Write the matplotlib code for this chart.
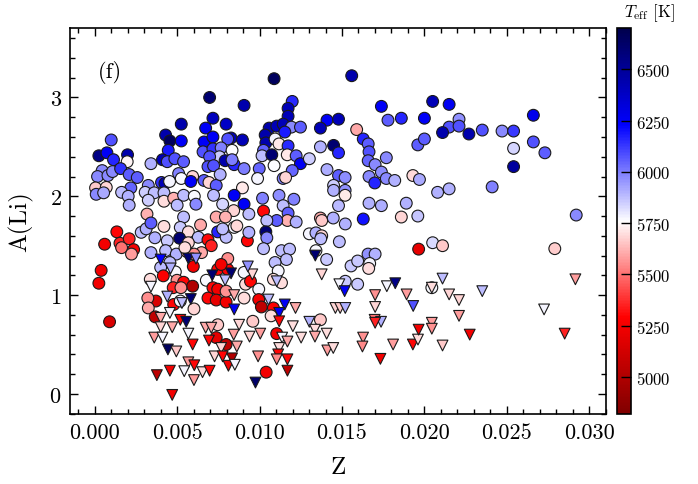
import numpy as np
import matplotlib
matplotlib.use('Agg')
import matplotlib.pyplot as plt
from matplotlib.ticker import MultipleLocator, FormatStrFormatter

plt.rcParams['font.family'] = 'serif'
plt.rcParams['font.serif'] = ['cmr10', 'DejaVu Serif']
plt.rcParams['mathtext.fontset'] = 'cm'
plt.rcParams['axes.formatter.use_mathtext'] = True
plt.rcParams['axes.unicode_minus'] = False

# detections (circles): metallicity Z, lithium abundance A(Li), Teff [K]
z_det = [
    0.0205, 0.0215, 0.02661, 0.0221, 0.0215, 0.0221, 0.0211, 0.0227, 0.02351, 0.02471,
    0.02541, 0.02661, 0.02541, 0.02731, 0.02541, 0.0208, 0.0215, 0.02411, 0.02921, 0.0205,
    0.0211, 0.02791,
    0.01088, 0.01559, 0.01198, 0.01173, 0.01173, 0.01739, 0.0186, 0.01779, 0.0200, 0.01409,
    0.01479, 0.01369, 0.01058, 0.01104, 0.01143, 0.01193, 0.01248, 0.01153, 0.01034, 0.01038,
    0.01094, 0.01118, 0.01173, 0.01024, 0.01015, 0.01074, 0.01168, 0.01222, 0.01088, 0.01248,
    0.01302, 0.01198, 0.01369, 0.01449, 0.01479, 0.01589, 0.01629, 0.01659, 0.01664, 0.01659,
    0.01701, 0.01769, 0.01739, 0.01664, 0.01699, 0.01769, 0.0182, 0.0193, 0.0197, 0.0196,
    0.0200, 0.01409, 0.01479, 0.01519, 0.01449, 0.01449, 0.01519, 0.01519, 0.01479, 0.01664,
    0.01739, 0.0189, 0.0196, 0.0186, 0.01629, 0.01369, 0.00998, 0.00988, 0.01143, 0.01158,
    0.01018, 0.01118, 0.01208, 0.01143, 0.01024, 0.01173,
    0.00697, 0.00906, 0.00717, 0.00525, 0.00797, 0.00673, 0.0010, 0.0043, 0.00456, 0.00525,
    0.00663, 0.00717, 0.00827, 0.00896, 0.00807, 0.00025, 0.00074, 0.00114, 0.00199, 0.00197,
    0.00446, 0.00411, 0.0044, 0.00486, 0.00539, 0.00341, 0.00657, 0.00717, 0.00767, 0.00833,
    0.00757, 0.00791, 0.00846, 0.00833, 0.00697, 0.00687, 0.00721, 0.00906, 0.00045, 0.00017,
    0.0008, 0.00108, 0.00157, 0.00209, 0.00258, 0.00325, 0.00219, 0.00405, 0.00426, 0.00454,
    0.00509, 0.00525, 0.00594, 0.00583, 0.00663, 0.00693, 0.00737, 0.00761, 0.00896, 0.00846,
    0.00906, 0.00005, 0.0007, 0.00009, 0.00054, 0.00163, 0.00203, 0.00209, 0.00306, 0.00361,
    0.0042, 0.00325, 0.0042, 0.00479, 0.00539, 0.0050, 0.00604, 0.00614, 0.00721, 0.00776,
    0.00843, 0.00317, 0.00737, 0.00793, 0.00539,
    0.00134, 0.0006, 0.00153, 0.00163, 0.00209, 0.00236, 0.00223, 0.00039, 0.00025, 0.0009,
    0.00282, 0.00312, 0.00341, 0.0042, 0.00365, 0.0044, 0.00341, 0.0043, 0.00495, 0.00519,
    0.00568, 0.00515, 0.00628, 0.00642, 0.00746, 0.00797, 0.00846, 0.00687, 0.00707, 0.00648,
    0.00559, 0.00602, 0.00456, 0.0040, 0.00489, 0.00598, 0.00416, 0.00337, 0.00499, 0.00539,
    0.00594, 0.00476, 0.00371, 0.00322, 0.00325, 0.00479, 0.00602, 0.00677, 0.00746, 0.00807,
    0.00807, 0.00717, 0.00746, 0.00687, 0.00737, 0.00797, 0.00906, 0.00906, 0.00926, 0.00367,
    0.00746, 0.00737, 0.00797, 0.00776, 0.00568, 0.00547, 0.00767, 0.00519, 0.00797, 0.00915,
    0.00862, 0.00523,
    0.00935, 0.01169, 0.01222, 0.01104, 0.01044, 0.00935, 0.01038, 0.01044, 0.01024, 0.01133,
    0.01182, 0.01163, 0.01094, 0.01113, 0.01302, 0.01342, 0.01377, 0.01371, 0.01377, 0.01447,
    0.0152, 0.01484, 0.01342, 0.01407, 0.01555, 0.01595, 0.01658, 0.01701, 0.01668, 0.01662,
    0.0152, 0.01595, 0.01965, 0.00945, 0.00995, 0.01084, 0.01133, 0.00995, 0.01011, 0.01084,
    0.01369, 0.00959, 0.0107, 0.01104, 0.0104, 0.02045,
]
ali_det = [
    2.96, 2.93, 2.82, 2.78, 2.70, 2.71, 2.645, 2.63, 2.67, 2.66,
    2.66, 2.55, 2.485, 2.44, 2.30, 2.04, 2.075, 2.095, 1.81, 1.53,
    1.50, 1.47,
    3.19, 3.22, 2.96, 2.89, 2.81, 2.91, 2.79, 2.77, 2.79, 2.77,
    2.78, 2.69, 2.69, 2.71, 2.73, 2.70, 2.70, 2.65, 2.62, 2.54,
    2.58, 2.53, 2.51, 2.465, 2.41, 2.42, 2.42, 2.41, 2.31, 2.33,
    2.38, 2.26, 2.50, 2.515, 2.44, 2.675, 2.58, 2.53, 2.45, 2.36,
    2.32, 2.39, 2.245, 2.20, 2.135, 2.18, 2.16, 2.21, 2.17, 2.52,
    2.58, 2.27, 2.21, 2.19, 2.11, 2.06, 2.06, 2.01, 1.905, 1.93,
    1.905, 1.93, 1.80, 1.79, 1.77, 1.78, 2.28, 2.18, 2.18, 2.19,
    1.98, 2.01, 1.97, 1.905, 1.85, 1.83,
    3.00, 2.92, 2.79, 2.73, 2.73, 2.69, 2.57, 2.62, 2.56, 2.56,
    2.55, 2.60, 2.59, 2.57, 2.58, 2.41, 2.44, 2.37, 2.42, 2.35,
    2.465, 2.37, 2.35, 2.38, 2.35, 2.33, 2.45, 2.48, 2.49, 2.465,
    2.40, 2.36, 2.32, 2.37, 2.40, 2.30, 2.31, 2.28, 2.26, 2.20,
    2.21, 2.25, 2.28, 2.22, 2.19, 2.11, 2.085, 2.14, 2.13, 2.15,
    2.23, 2.18, 2.20, 2.15, 2.16, 2.14, 2.11, 2.22, 2.085, 2.01,
    1.92, 2.085, 2.09, 2.02, 2.035, 2.04, 2.00, 1.91, 2.04, 2.035,
    2.035, 1.96, 1.95, 1.98, 2.01, 1.91, 2.00, 1.92, 2.01, 1.92,
    1.855, 1.82, 1.79, 1.79, 1.79,
    1.64, 1.515, 1.525, 1.48, 1.57, 1.46, 1.415, 1.25, 1.12, 0.73,
    1.635, 1.67, 1.73, 1.695, 1.58, 1.55, 1.43, 1.45, 1.415, 1.685,
    1.64, 1.575, 1.585, 1.71, 1.64, 1.585, 1.685, 1.56, 1.50, 1.43,
    1.44, 1.415, 1.33, 1.28, 1.235, 1.29, 1.195, 1.16, 1.15, 1.13,
    1.09, 1.075, 0.94, 0.97, 0.87, 0.905, 0.86, 1.15, 1.26, 1.26,
    1.37, 1.075, 1.06, 0.97, 0.95, 0.93, 0.97, 1.23, 1.55, 0.78,
    0.70, 0.57, 0.50, 1.67, 1.53, 1.48, 1.31, 0.94, 1.04, 1.11,
    1.70, 1.075,
    1.82, 1.755, 1.74, 1.755, 1.755, 1.635, 1.64, 1.58, 1.47, 1.45,
    1.465, 1.36, 1.33, 1.245, 1.62, 1.63, 1.60, 1.57, 1.755, 1.78,
    1.72, 1.54, 1.45, 1.36, 1.295, 1.345, 1.415, 1.415, 1.32, 1.27,
    1.14, 1.11, 1.465, 1.14, 1.06, 1.16, 1.125, 0.955, 0.88, 0.87,
    0.75, 0.735, 0.79, 0.61, 0.22, 1.075,
]
teff_det = [
    6420, 6260, 6280, 5960, 6080, 6080, 6450, 6450, 6080, 5980,
    6120, 6080, 5840, 6060, 6480, 5900, 5900, 5990, 5980, 5830,
    5660, 5670,
    6650, 6450, 6150, 6420, 6420, 6250, 6160, 6060, 6250, 6250,
    6420, 6420, 6450, 6420, 6420, 5980, 6060, 6180, 6450, 6450,
    5780, 5720, 6150, 6050, 5880, 6600, 5720, 6060, 5760, 6260,
    5850, 6040, 5900, 6600, 6160, 5600, 6160, 6060, 6080, 6040,
    5980, 5980, 5970, 5980, 6160, 5980, 5900, 5690, 5920, 6060,
    6060, 5910, 6060, 5970, 5850, 5900, 5960, 5720, 5890, 5900,
    5910, 5900, 5870, 5680, 6200, 5600, 6040, 5780, 5990, 5680,
    5990, 5970, 5990, 5880, 5300, 6060,
    6600, 6450, 6400, 6450, 6380, 6250, 6080, 6450, 6650, 6250,
    6250, 6250, 6420, 6420, 6080, 6550, 6250, 6160, 6450, 5740,
    6180, 6420, 6080, 6080, 6060, 5900, 6080, 6140, 5990, 5760,
    5860, 6450, 6160, 6000, 6080, 6080, 6080, 6000, 5980, 5980,
    5980, 5980, 6140, 6060, 6060, 5980, 6040, 6140, 6420, 5780,
    5990, 5770, 5680, 6250, 6060, 5680, 6060, 5900, 5720, 6250,
    6250, 5660, 5680, 5980, 5920, 5880, 5900, 5900, 5850, 5880,
    5880, 5850, 5700, 5620, 5880, 5880, 5770, 5980, 5880, 5840,
    5680, 5620, 5600, 5620, 5880,
    5300, 5250, 5350, 5500, 5350, 5250, 5580, 5250, 5250, 5150,
    5880, 5900, 6060, 5700, 5900, 5860, 5900, 5880, 5900, 5860,
    5700, 6600, 5880, 5600, 6160, 5880, 5780, 5300, 5350, 5600,
    5600, 5550, 5880, 5880, 5770, 5250, 5280, 5700, 5560, 5300,
    5000, 5350, 5150, 5550, 5600, 5300, 5680, 5770, 5300, 5280,
    5550, 5300, 5250, 5300, 5200, 5250, 5700, 5780, 5300, 5050,
    5660, 5200, 5050, 5880, 5680, 5700, 5250, 5780, 5560, 5690,
    5690, 5560,
    5880, 5620, 5900, 6060, 5880, 5900, 6600, 5980, 5880, 5880,
    5880, 5880, 5880, 5780, 5780, 5900, 5680, 5880, 5660, 5900,
    5900, 5880, 5770, 5860, 5860, 5860, 5960, 5900, 5780, 5700,
    5860, 5860, 5200, 5300, 5780, 5700, 5700, 5250, 5050, 5280,
    5660, 5660, 5700, 5250, 5250, 5770,
]

# upper limits (down triangles)
z_lim = [
    0.0211, 0.02045, 0.0215, 0.0221, 0.02351, 0.0221, 0.02045, 0.02045, 0.02275, 0.0211,
    0.02916, 0.02726, 0.02851,
    0.01338, 0.01377, 0.01484, 0.01516, 0.01772, 0.01823, 0.01701, 0.01892, 0.01932, 0.01701,
    0.0146, 0.01489, 0.0152, 0.01218, 0.01153, 0.01119, 0.00956, 0.01104, 0.01054,
    0.01119, 0.01004, 0.00939, 0.01137, 0.01169, 0.01202, 0.01252, 0.01302, 0.01336, 0.01336,
    0.01407, 0.01119, 0.01113, 0.01104, 0.01169, 0.00991, 0.01169, 0.00975, 0.01411, 0.01447,
    0.01628, 0.01624, 0.01733, 0.01698, 0.01737, 0.0181, 0.0193, 0.01961, 0.01965, 0.01701,
    0.0040, 0.0046, 0.00568, 0.00614, 0.00341, 0.0044, 0.00529, 0.00583, 0.00713, 0.00827,
    0.00791, 0.00846, 0.00929, 0.00846,
    0.0040, 0.00456, 0.0040, 0.0047, 0.00519, 0.00555, 0.00361, 0.00411, 0.00444, 0.00495,
    0.00568, 0.00594, 0.00673, 0.00707, 0.00876, 0.00693, 0.00767, 0.00843, 0.00862, 0.00727,
    0.00776, 0.00833, 0.00811, 0.0085, 0.00568, 0.00604, 0.00456, 0.00377, 0.00543, 0.00602,
    0.00654, 0.00697, 0.0047,
]
ali_lim = [
    1.167, 1.075, 1.007, 0.95, 1.04, 0.79, 0.72, 0.66, 0.60, 0.49,
    1.16, 0.855, 0.61,
    1.40, 1.21, 1.11, 1.04, 1.09, 1.12, 1.00, 1.007, 0.89, 0.88,
    0.87, 0.87, 0.87, 0.87, 0.905, 0.82, 1.21, 1.14, 0.955,
    0.735, 0.61, 0.58, 0.57, 0.53, 0.685, 0.57, 0.73, 0.65, 0.58,
    0.61, 0.465, 0.40, 0.35, 0.35, 0.38, 0.235, 0.115, 0.44, 0.465,
    0.57, 0.48, 0.355, 0.75, 0.73, 0.50, 0.50, 0.55, 0.65, 0.72,
    1.36, 1.27, 1.37, 1.37, 1.085, 0.985, 0.92, 0.96, 1.20, 1.22,
    1.15, 1.00, 1.29, 0.855,
    0.77, 0.82, 0.675, 0.675, 0.75, 0.73, 0.57, 0.57, 0.45, 0.43,
    0.61, 0.50, 0.67, 0.67, 0.70, 0.54, 0.465, 0.60, 0.48, 0.38,
    0.38, 0.36, 0.285, 0.295, 0.32, 0.29, 0.235, 0.19, 0.23, 0.14,
    0.22, 0.235, -0.01,
]
teff_lim = [
    5880, 5700, 5680, 5680, 5880, 5580, 5580, 5560, 5250, 5660,
    5580, 5780, 5350,
    6600, 5680, 5780, 6240, 5780, 6550, 5560, 5580, 6080, 5680,
    5680, 5660, 5900, 5600, 6250, 6250, 5680, 5880, 5880,
    5300, 5580, 5680, 5780, 5600, 5700, 5700, 5900, 5700, 5600,
    5700, 5700, 5300, 5550, 5300, 5560, 5050, 6620, 5580, 5700,
    5560, 5540, 5250, 5500, 5900, 5580, 5300, 5700, 5250, 5350,
    6240, 5900, 6600, 5960, 5780, 5900, 5880, 6600, 6600, 6600,
    5880, 5600, 5960, 6250,
    5600, 5780, 5680, 5600, 5300, 6600, 5580, 5780, 6650, 5660,
    5780, 5300, 5600, 5600, 5680, 5300, 5680, 5580, 5600, 5680,
    5300, 5000, 5250, 5780, 5580, 5300, 5250, 5050, 5780, 5580,
    5700, 5300, 5250,
]

tmin, tmax = 4820, 6700

fig = plt.figure(figsize=(6.98, 4.85), dpi=100)
ax = fig.add_axes([0.1003, 0.145, 0.7675, 0.7946])
cax = fig.add_axes([0.884, 0.1443, 0.02, 0.7953])

sc = ax.scatter(z_det, ali_det, c=teff_det, cmap='seismic_r', vmin=tmin, vmax=tmax,
                marker='o', s=72, edgecolors='#1a1a1a', linewidths=0.8, zorder=2)
ax.scatter(z_lim, ali_lim, c=teff_lim, cmap='seismic_r', vmin=tmin, vmax=tmax,
           marker='v', s=60, edgecolors='#1a1a1a', linewidths=0.8, zorder=3)

ax.set_xlim(-0.0015, 0.031)
ax.set_ylim(-0.2, 3.7)
ax.xaxis.set_major_locator(MultipleLocator(0.005))
ax.xaxis.set_minor_locator(MultipleLocator(0.001))
ax.xaxis.set_major_formatter(FormatStrFormatter('%.3f'))
ax.yaxis.set_major_locator(MultipleLocator(1))
ax.yaxis.set_minor_locator(MultipleLocator(0.2))
ax.tick_params(which='both', direction='in', top=True, right=True, labelsize=16, width=1)
ax.tick_params(which='major', length=6, pad=6)
ax.tick_params(which='minor', length=3.5)
for sp in ax.spines.values():
    sp.set_linewidth(1.2)

ax.set_xlabel('Z', fontsize=18, labelpad=10)
ax.set_ylabel('A(Li)', fontsize=18, labelpad=12)
ax.text(0.052, 0.889, '(f)', transform=ax.transAxes, ha='left', va='center', fontsize=16)

cb = fig.colorbar(sc, cax=cax)
cb.set_ticks([5000, 5250, 5500, 5750, 6000, 6250, 6500])
cb.ax.tick_params(direction='in', length=7, width=1, labelsize=12)
cb.ax.minorticks_off()
cb.outline.set_linewidth(1.2)
fig.text(649 / 698, 1 - 13.5 / 485, r'$T_{\rm eff}$ [K]', ha='center', va='center', fontsize=12)

fig.savefig('out.png', dpi=100)
